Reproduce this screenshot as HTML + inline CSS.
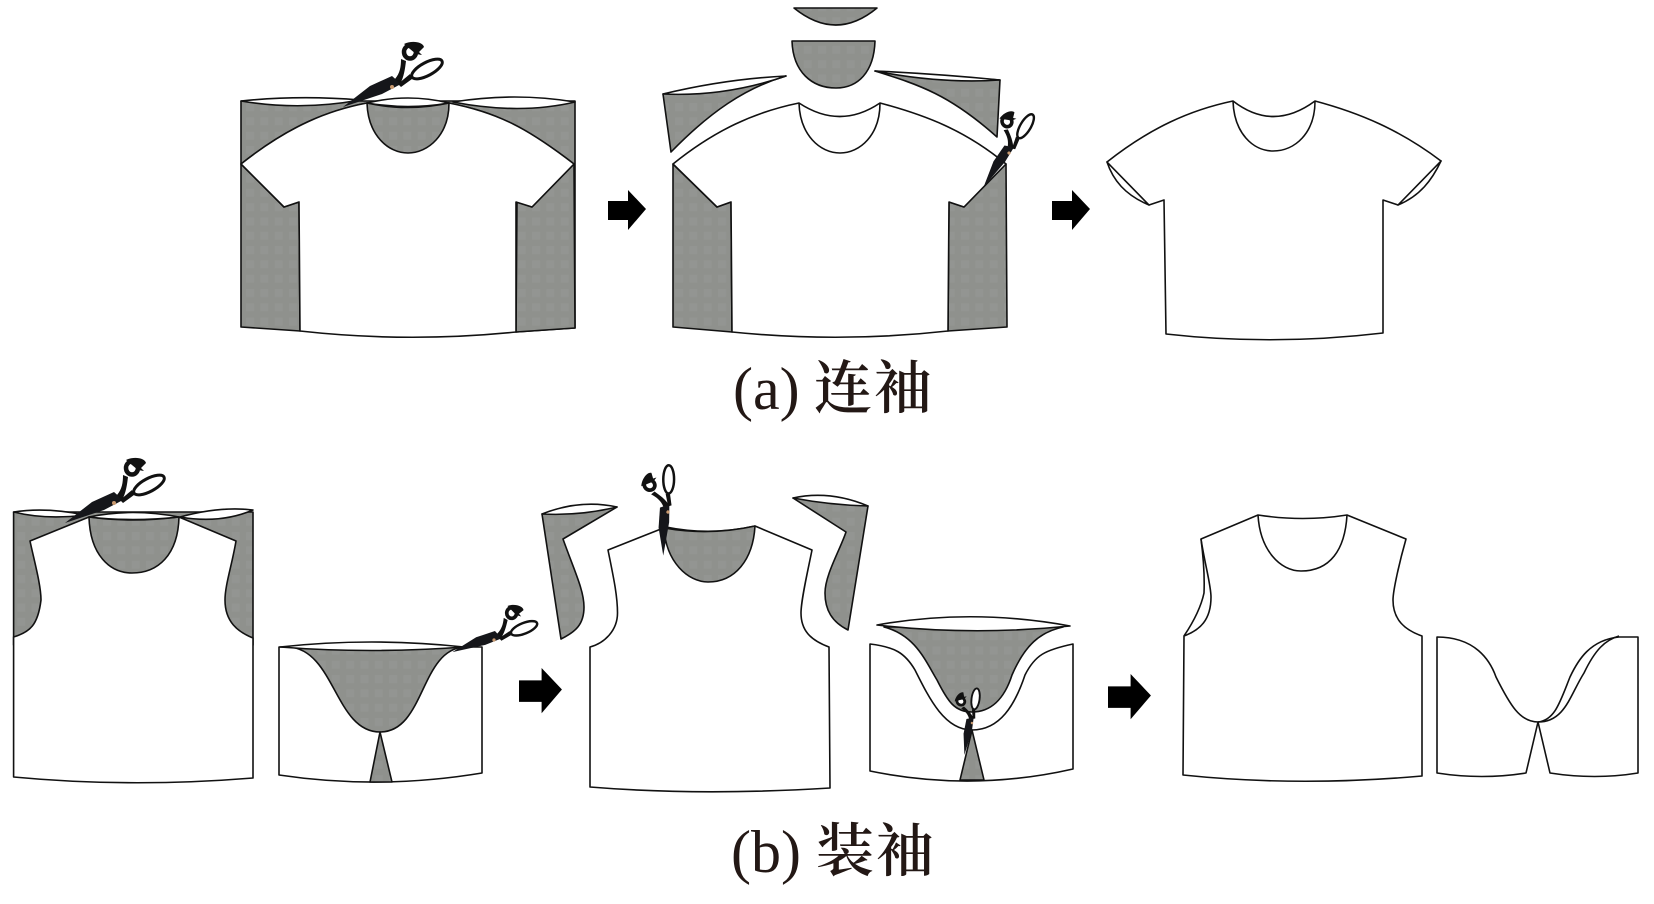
<!DOCTYPE html>
<html><head><meta charset="utf-8"><style>
html,body{margin:0;padding:0;background:#fff}
svg{display:block}
.l{fill:#fff;stroke:#111;stroke-width:1.6;stroke-linejoin:round}
.n{fill:none;stroke:#111;stroke-width:1.6}
.g{fill:url(#p);stroke:#111;stroke-width:1.6;stroke-linejoin:round}
.t{font-family:"Liberation Serif","Times New Roman",serif;fill:#231815}
.c{font-family:"Noto Serif CJK SC","Liberation Serif",serif;fill:#231815}
</style></head><body>
<svg width="1654" height="904" viewBox="0 0 1654 904" xmlns="http://www.w3.org/2000/svg">
<defs>
<pattern id="p" width="14.3" height="14.3" patternUnits="userSpaceOnUse">
<rect width="14.3" height="14.3" fill="#8f918d"/><rect x="3" y="3" width="8" height="8" fill="#939592"/>
</pattern>
<g id="s">
<path d="M-49,20L-22,-1L0,-11L9,-3L-10,7Z" fill="#15161a"/>
<path d="M3,-8C8,-14 9,-20 9,-28L14,-26C13,-18 12,-10 8,-3Z" fill="#111"/>
<path d="M6,-3L18,-13L20,-8L9,0Z" fill="#111"/>
<ellipse cx="18" cy="-35" rx="6" ry="6.500" fill="#fff" stroke="#111" stroke-width="4.500"/>
<path d="M12,-43C20,-47 31,-45 32,-40L27,-35L30,-32L24,-33Z" fill="#111"/>
<ellipse cx="35" cy="-18" rx="17" ry="6.500" transform="rotate(-28 35 -18)" fill="#fff" stroke="#111" stroke-width="3"/>
<circle r="2" fill="#c99a70"/>
</g>
<path id="a" d="M0,11H20V0L38,19L20,40V30H0Z" fill="#000"/>
</defs>

<!-- A1 -->
<path class="g" d="M241,101H575V328L516,332V202L532,207L574,164C510,115 480,110 449,103H367C330,110 290,125 241,164Z"/>
<path class="g" d="M241,164L284,207L299,202L300,331L241,327Z"/>
<path class="g" d="M574,164L532,207L517,202L516,332L575,328Z"/>
<path class="l" d="M300,331Q408,343 516,332V202L532,207L574,164C530,130 500,113 449,103Q408,112 367,103C330,110 290,125 241,164L284,207L299,202Z"/>
<path class="g" d="M367,103C368,135 388,153 408,153C428,153 449,135 449,103Q408,112 367,103Z"/>
<path class="l" d="M241,101Q300,95 360,100Q300,111 241,101Z"/>
<path class="l" d="M367,103Q408,93 449,103Q408,110 367,103Z"/>
<path class="l" d="M453,102Q515,92 575,102Q520,115 453,102Z"/>

<!-- A2 -->
<path class="g" d="M794,8H877Q836,42 794,8Z"/>
<path class="g" d="M792,41H875C874,72 858,88 836,88C812,88 793,72 792,41Z"/>
<path class="g" d="M663,94L786,76C745,88 710,112 671,152Z"/>
<path class="l" d="M663,94Q725,79 786,76Q725,97 663,94Z"/>
<path class="g" d="M875,71L1000,80L997,137C950,95 920,85 875,71Z"/>
<path class="l" d="M875,71Q940,74 1000,80Q940,84 875,71Z"/>
<path class="g" d="M673,164L717,207L731,202L732,332L673,327Z"/>
<path class="g" d="M1006,164L964,207L949,202L948,331L1007,327Z"/>
<path class="l" d="M732,332Q840,343 948,331L949,202L964,207L1006,164C965,130 925,115 880,103Q840,130 799,103C755,112 715,130 673,164L717,207L731,202Z"/>
<path class="n" d="M799,103C800,135 820,153 840,153C860,153 880,135 880,103"/>

<!-- A3 -->
<path class="l" d="M1107,162L1149,205C1125,195 1113,180 1107,162Z"/>
<path class="n" d="M1107,162Q1130,172 1149,205"/>
<path class="l" d="M1441,161L1398,205C1420,196 1432,180 1441,161Z"/>
<path class="n" d="M1441,161Q1412,172 1398,205"/>
<path class="l" d="M1166,334Q1273,346 1383,333V200L1398,205L1441,161C1400,130 1360,113 1315,101Q1273,132 1233,101C1190,110 1150,128 1107,162L1149,205L1164,200Z"/>
<path class="n" d="M1233,101C1234,133 1253,151 1273,151C1295,151 1315,133 1315,101"/>

<use href="#a" x="608" y="190"/>
<use href="#a" x="1052" y="190"/>

<!-- B1 -->
<path class="g" d="M13.6,512H253V645H13.6Z"/>
<path class="l" d="M13.6,637C30,632 38,625 41,600C41,585 34,560 30,541L89,517Q132,523 179,517L236,541C232,565 225,585 225,600C225,622 238,632 253,638V778Q130,788 13.6,777Z"/>
<path class="g" d="M89,517C90,555 110,573 132,573C158,573 178,555 179,517Q132,523 89,517Z"/>
<path class="l" d="M13.6,512Q46,507 85,515Q46,520 13.6,512Z"/>
<path class="l" d="M89,517Q132,508 179,517Q132,522 89,517Z"/>
<path class="l" d="M180,517Q220,506 253,510Q220,524 180,517Z"/>

<!-- B2 -->
<path class="l" d="M279,647H482V773Q380,790 279,775Z"/>
<path class="g" d="M289,647C335,650 335,732 380,732C425,732 420,650 464,647Z"/>
<path class="l" d="M280,647Q371,637 464,647Q371,654 280,647Z"/>
<path class="g" d="M380,732L370,782H392Z"/>

<use href="#a" transform="translate(519 668) scale(1.13)"/>

<!-- B3 -->
<path class="g" d="M542,514L617,507L563,539C574,570 584,590 584,607C584,625 575,632 561,639Z"/>
<path class="l" d="M542,514Q580,499 617,507Q580,516 542,514Z"/>
<path class="g" d="M793,498L868,506L848,630C832,622 825,610 825,593C825,575 840,550 846,532Z"/>
<path class="l" d="M793,498Q830,490 868,506Q830,505 793,498Z"/>
<path class="l" d="M590,787Q700,796 830,788L829,647C810,640 801,630 801,613C801,600 808,570 812,550L755,526Q710,536 666,527L608,550C613,575 617.500,595 617.500,613C617.500,630 605,643 590,647Z"/>
<path class="g" d="M664,528C666,562 688,582 708,582C735,582 753,560 755,526Q710,536 664,528Z"/>
<!-- B4 -->
<path class="l" d="M870,644C895,647 905,653 915,670C930,700 945,730 972,730C1000,730 1015,705 1025,675C1035,655 1045,650 1073,644V769Q972,792 870,771Z"/>
<path class="g" d="M884,627C915,635 925,660 937,680C948,702 955,712 972,712C990,712 1004,700 1012,675C1025,645 1040,632 1063,627Z"/>
<path class="l" d="M877,625Q972,608 1070,626Q972,636 877,625Z"/>
<path class="g" d="M972,730L960,780H984Z"/>

<use href="#a" transform="translate(1108 674) scale(1.13)"/>

<!-- B5 -->
<path class="l" d="M1183,775Q1298,787 1422,776V636C1405,630 1393,620 1393,600C1393,590 1400,560 1406,539L1347,515Q1303,522 1258,515L1201,539C1205,565 1211,585 1211,597C1211,620 1200,630 1184,636Z"/>
<path class="n" d="M1201,539Q1205,570 1204,593Q1200,612 1184,636"/>
<path class="n" d="M1258,515C1260,550 1280,571 1301,571C1330,571 1345,550 1347,515"/>
<!-- B6 -->
<path class="l" d="M1437,637C1475,637 1490,660 1496,677C1510,705 1520,722 1538,722L1526,773Q1482,780 1437,773Z"/>
<path class="l" d="M1538,722L1550,773Q1595,780 1638,773V637H1619C1590,640 1578,660 1570,677C1560,702 1555,720 1538,722Z"/>
<path class="n" d="M1538,722C1565,722 1570,695 1584,673C1595,650 1605,640 1619,636"/>

<!-- scissors -->
<use href="#s" transform="translate(392 87)"/>
<use href="#s" transform="translate(1009 153) rotate(-31) scale(.8)"/>
<use href="#s" transform="translate(114 503)"/>
<use href="#s" transform="translate(494 640) rotate(6) scale(.82)"/>
<use href="#s" transform="translate(668 512) rotate(-61.6) scale(.83)"/>
<use href="#s" transform="translate(972 723) rotate(-54.4) scale(.62)"/>

<!-- captions -->
<text class="t" x="733" y="409" font-size="60">(a)</text>
<text class="c" x="814" y="408" font-size="58" font-weight="600" textLength="118">连袖</text>
<text class="t" x="731" y="872" font-size="60">(b)</text>
<text class="c" x="816" y="871" font-size="58" font-weight="600" textLength="118">装袖</text>
</svg>
</body></html>
